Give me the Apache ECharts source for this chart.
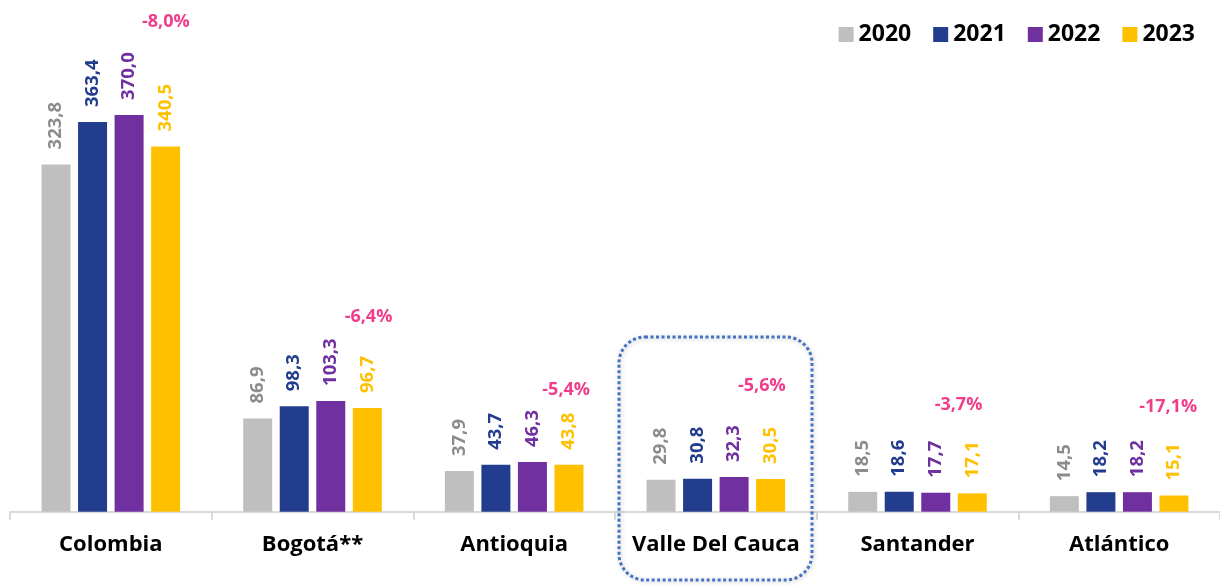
<!DOCTYPE html>
<html>
<head>
<meta charset="utf-8">
<script src="https://cdn.jsdelivr.net/npm/echarts@6/dist/echarts.min.js"></script>
<style>
html,body{margin:0;padding:0;background:#fff;}
#main{width:1220px;height:588px;}
</style>
</head>
<body>
<div id="main"></div>
<script>
const categories = ['Colombia', 'Bogotá**', 'Antioquia', 'Valle Del Cauca', 'Santander', 'Atlántico'];
const years = ['2020', '2021', '2022', '2023'];
const v2020 = [323.8, 86.9, 37.9, 29.8, 18.5, 14.5];
const v2021 = [363.4, 98.3, 43.7, 30.8, 18.6, 18.2];
const v2022 = [370.0, 103.3, 46.3, 32.3, 17.7, 18.2];
const v2023 = [340.5, 96.7, 43.8, 30.5, 17.1, 15.1];
const changeLabels = ['-8,0%', '-6,4%', '-5,4%', '-5,6%', '-3,7%', '-17,1%'];

const barColors = ['#BFBFBF', '#233D8E', '#7030A0', '#FFC000'];
const labelColors = ['#8C8C8C', '#233D8E', '#7030A0', '#FFC000'];
const seriesValues = [v2020, v2021, v2022, v2023];
const FONT = '"Open Sans", "Noto Sans", sans-serif';

// pixel offsets of the change labels (layout only)
const changeOffsets = [[55, -125], [56, -91], [52, -75], [46, -93], [41, -88], [49, -89]];

const chart = echarts.init(document.getElementById('main'));

const barSeries = years.map((y, i) => ({
  name: y,
  type: 'bar',
  data: seriesValues[i],
  barWidth: 29,
  barGap: '26%',
  itemStyle: { color: barColors[i] },
  label: {
    show: true,
    position: 'top',
    rotate: 90,
    align: 'left',
    verticalAlign: 'middle',
    distance: 15,
    color: labelColors[i],
    fontFamily: FONT,
    fontWeight: 'bold',
    fontSize: 18.5,
    formatter: p => p.value.toFixed(1).replace('.', ',')
  }
}));

const changeSeries = {
  name: 'change',
  type: 'scatter',
  symbol: 'circle',
  symbolSize: 1,
  itemStyle: { color: 'rgba(0,0,0,0)' },
  silent: true,
  data: v2023,
  label: {
    show: true,
    position: 'inside',
    color: '#EC0C6E',
    fontFamily: FONT,
    fontWeight: 'bold',
    fontSize: 18,
    formatter: p => changeLabels[p.dataIndex]
  },
  labelLayout: params => ({
    dx: changeOffsets[params.dataIndex][0],
    dy: changeOffsets[params.dataIndex][1],
    hideOverlap: false
  }),
  z: 5
};

chart.setOption({
  animation: false,
  backgroundColor: '#ffffff',
  grid: { left: 10, right: 0, top: 82.7, bottom: 76.3, containLabel: false },
  legend: {
    data: years,
    top: 18,
    right: 20,
    icon: 'rect',
    itemWidth: 15,
    itemHeight: 15,
    itemGap: 22,
    textStyle: { fontFamily: FONT, fontWeight: 'bold', fontSize: 23, color: '#000' }
  },
  xAxis: {
    type: 'category',
    data: categories,
    boundaryGap: true,
    axisLine: { show: true, lineStyle: { color: '#D9D9D9', width: 2 } },
    axisTick: { show: true, interval: 0, alignWithLabel: false, length: 8, lineStyle: { color: '#D9D9D9', width: 2 } },
    axisLabel: {
      interval: 0,
      margin: 22,
      color: '#000',
      fontFamily: FONT,
      fontWeight: 'bold',
      fontSize: 22
    }
  },
  yAxis: {
    type: 'value',
    min: 0,
    max: 400,
    show: false,
    splitLine: { show: false }
  },
  series: [...barSeries, changeSeries],
  graphic: [{
    type: 'rect',
    shape: { x: 619, y: 337, width: 193, height: 243, r: 26 },
    style: {
      fill: 'none',
      stroke: '#4472C4',
      lineWidth: 3,
      lineDash: [3, 2.5],
      shadowBlur: 4,
      shadowColor: 'rgba(0,0,0,0.25)',
      shadowOffsetX: 1,
      shadowOffsetY: 1
    },
    z: 100
  }]
});
</script>
</body>
</html>
